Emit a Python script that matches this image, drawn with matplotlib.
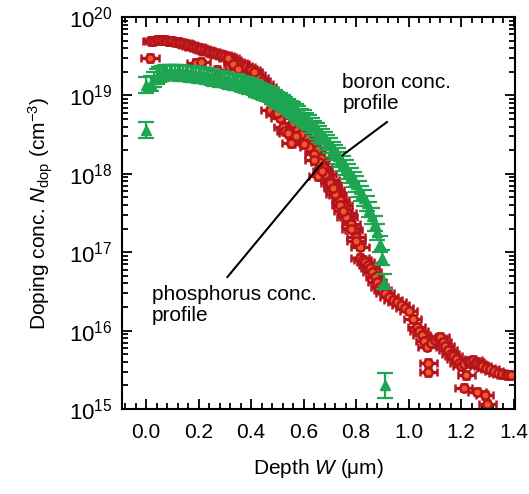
import numpy as np
import matplotlib.pyplot as plt
from matplotlib.ticker import FixedLocator, LogLocator, NullFormatter, FuncFormatter

plt.rcParams['font.family'] = ['Liberation Sans', 'DejaVu Sans']
plt.rcParams['mathtext.fontset'] = 'custom'
plt.rcParams['mathtext.rm'] = 'Liberation Sans'
plt.rcParams['mathtext.it'] = 'Liberation Sans:italic'

# phosphorus profile (depth in um, concentration in cm^-3)
p_depth = [0.02, 0.03, 0.04, 0.05, 0.06, 0.07, 0.08, 0.09, 0.10, 0.11, 0.12, 0.13,
           0.14, 0.15, 0.16, 0.17, 0.18, 0.19, 0.20, 0.21, 0.22, 0.23, 0.24, 0.25,
           0.26, 0.27, 0.28, 0.29, 0.30, 0.31, 0.32, 0.33, 0.34, 0.35, 0.36, 0.37,
           0.38, 0.39, 0.40, 0.41, 0.42, 0.43, 0.44, 0.45, 0.46, 0.47, 0.48,
           0.015, 0.19, 0.21, 0.27, 0.31, 0.33, 0.35, 0.41,
           0.47, 0.49, 0.51, 0.52, 0.53, 0.54, 0.55, 0.56, 0.575, 0.59, 0.61, 0.62,
           0.63, 0.65, 0.655, 0.665, 0.675, 0.69, 0.70, 0.71, 0.72, 0.73, 0.74, 0.75,
           0.765, 0.77, 0.78, 0.79, 0.80, 0.815,
           0.53, 0.56, 0.59, 0.62, 0.64, 0.66, 0.68, 0.70, 0.72, 0.74, 0.76, 0.78,
           0.80, 0.50, 0.57, 0.60, 0.64, 0.67, 0.71, 0.75,
           0.815, 0.825, 0.835, 0.845, 0.853, 0.86, 0.87, 0.88, 0.89, 0.90, 0.91,
           0.925, 0.94, 0.955, 0.97, 0.985, 1.00, 1.015, 1.03, 1.04, 1.05, 1.06,
           1.07, 1.085, 1.10, 1.11, 1.12, 1.13, 1.14, 1.15, 1.16, 1.17, 1.18, 1.19,
           1.20, 1.21, 1.225, 1.235, 1.245, 1.255, 1.26, 1.27, 1.28, 1.295, 1.31,
           1.325, 1.34, 1.355, 1.37, 1.38, 1.39,
           1.075, 1.075, 1.21, 1.22, 1.26, 1.29, 1.30]
p_conc = [4.9e19, 5.0e19, 5.1e19, 5.1e19, 5.1e19, 5.05e19, 5.0e19, 4.95e19, 4.9e19,
          4.85e19, 4.8e19, 4.7e19, 4.6e19, 4.5e19, 4.4e19, 4.3e19, 4.2e19, 4.1e19,
          4.0e19, 3.9e19, 3.8e19, 3.7e19, 3.6e19, 3.55e19, 3.5e19, 3.4e19, 3.3e19,
          3.25e19, 3.2e19, 3.1e19, 3.0e19, 2.85e19, 2.7e19, 2.6e19, 2.5e19, 2.4e19,
          2.3e19, 2.2e19, 2.1e19, 1.95e19, 1.8e19, 1.68e19, 1.55e19, 1.42e19, 1.3e19,
          1.17e19, 1.05e19,
          3.0e19, 2.6e19, 2.7e19, 2.1e19, 3.0e19, 2.5e19, 2.2e19, 2.0e19,
          6.5e18, 5.8e18, 5.2e18, 4.0e18, 3.5e18, 3.3e18, 2.45e18, 4.5e18, 3.8e18, 3.2e18,
          2.95e18, 2.5e18, 2.3e18, 2.0e18, 9.3e17, 1.6e18, 1.23e18, 1.0e18, 8.3e17, 7.2e17,
          6.2e17, 5.4e17, 4.7e17, 4.0e17, 3.2e17, 2.8e17, 2.3e17, 1.9e17, 1.55e17, 1.17e17,
          6.3e18, 4.5e18, 3.2e18, 2.2e18, 1.8e18, 1.4e18, 1.0e18, 7.6e17, 5.6e17, 4.0e17,
          2.8e17, 2.0e17, 1.4e17, 6.0e18, 3.0e18, 2.4e18, 1.5e18, 1.1e18, 6.6e17, 3.4e17,
          8.5e16, 8.0e16, 7.4e16, 6.8e16, 6.3e16, 5.6e16, 4.8e16, 4.2e16, 3.6e16, 3.3e16,
          3.0e16, 2.7e16, 2.45e16, 2.3e16, 2.1e16, 1.95e16, 1.8e16, 1.4e16, 1.12e16,
          1.0e16, 8.9e15, 7.4e15, 6.2e15, 7.0e15, 7.6e15, 8.0e15, 8.3e15, 7.2e15, 6.3e15,
          5.7e15, 5.1e15, 4.8e15, 4.4e15, 3.9e15, 3.5e15, 3.8e15, 4.0e15, 4.1e15, 4.2e15,
          4.0e15, 3.8e15, 3.65e15, 3.5e15, 3.35e15, 3.2e15, 3.05e15, 2.9e15, 2.8e15,
          2.75e15, 2.7e15, 2.7e15,
          3.9e15, 2.95e15, 1.86e15, 2.7e15, 1.66e15, 1.5e15, 1.17e15]

# boron profile
b_depth = [0.0, 0.0,
           0.02, 0.03, 0.04, 0.05, 0.06, 0.07, 0.08, 0.09, 0.10, 0.11, 0.12, 0.13,
           0.14, 0.15, 0.16, 0.17, 0.18, 0.19, 0.20, 0.21, 0.22, 0.23, 0.24, 0.25,
           0.26, 0.27, 0.28, 0.29, 0.30, 0.31, 0.32, 0.33, 0.34, 0.35, 0.36, 0.37,
           0.38, 0.39, 0.40, 0.41, 0.42, 0.43, 0.44, 0.45, 0.46, 0.47, 0.48, 0.49,
           0.50, 0.51, 0.52, 0.53, 0.54, 0.55, 0.56, 0.57, 0.58, 0.59, 0.60, 0.61,
           0.62, 0.63, 0.64, 0.65, 0.66, 0.67, 0.68, 0.69, 0.70, 0.71, 0.72, 0.73,
           0.74, 0.75, 0.76, 0.77, 0.78, 0.79, 0.80, 0.81, 0.82, 0.83, 0.84, 0.85,
           0.86, 0.87, 0.88, 0.89,
           0.90, 0.905, 0.91]
b_conc = [1.35e19, 3.6e18,
          1.41e19, 1.6e19, 1.74e19, 1.84e19, 1.91e19, 1.94e19, 1.95e19, 1.96e19, 1.95e19,
          1.95e19, 1.95e19, 1.93e19, 1.91e19, 1.91e19, 1.90e19, 1.88e19, 1.86e19, 1.84e19,
          1.82e19, 1.80e19, 1.78e19, 1.76e19, 1.74e19, 1.70e19, 1.66e19, 1.64e19, 1.62e19,
          1.60e19, 1.58e19, 1.55e19, 1.51e19, 1.50e19, 1.48e19, 1.45e19, 1.41e19, 1.38e19,
          1.35e19, 1.32e19, 1.29e19, 1.25e19, 1.20e19, 1.16e19, 1.12e19, 1.09e19, 1.05e19,
          1.02e19, 9.8e18, 9.3e18, 8.9e18, 8.5e18, 8.1e18, 7.6e18, 7.2e18, 6.8e18, 6.5e18,
          6.1e18, 5.8e18, 5.4e18, 5.1e18, 4.8e18, 4.5e18, 4.1e18, 3.8e18, 3.5e18, 3.2e18,
          3.0e18, 2.75e18, 2.5e18, 2.3e18, 2.05e18, 1.86e18, 1.68e18, 1.51e18, 1.35e18,
          1.2e18, 1.07e18, 9.5e17, 8.4e17, 7.4e17, 6.4e17, 5.6e17, 4.9e17, 4.2e17, 3.5e17,
          2.9e17, 2.3e17, 1.8e17, 1.26e17,
          8.5e16, 4.2e16, 2.0e15]

red = '#b5141c'
orange = '#f25a2a'
green = '#1ea551'

fig = plt.figure(figsize=(5.29, 4.94), dpi=100)
ax = fig.add_axes([0.2306, 0.172, 0.7429, 0.7935])

pc = np.array(p_conc)
ax.errorbar(p_depth, pc, xerr=0.033, yerr=[pc * 0.1, pc * 0.12], fmt='o',
            ms=6, mfc=orange, mec=red, mew=1.8, ecolor=red, elinewidth=2.4,
            capsize=3, capthick=2.4, zorder=2)

bc = np.array(b_conc)
b_err_lo = bc * 0.2
b_err_hi = bc * 0.26
b_err_lo[-1] = bc[-1] * 0.3
b_err_hi[-1] = bc[-1] * 0.45
ax.errorbar(b_depth, bc, yerr=[b_err_lo, b_err_hi], fmt='^', ms=6.5,
            mfc=green, mec=green, ecolor=green, elinewidth=1.6,
            capsize=6, capthick=1.6, zorder=3)

ax.set_yscale('log')
ax.set_xlim(-0.092, 1.405)
ax.set_ylim(1e15, 1e20)

ax.xaxis.set_major_locator(FixedLocator([0.0, 0.2, 0.4, 0.6, 0.8, 1.0, 1.2, 1.4]))
ax.xaxis.set_minor_locator(FixedLocator(np.arange(-0.08, 1.41, 0.04)))
ax.xaxis.set_major_formatter(FuncFormatter(lambda v, p: f'{v:.1f}'))
ax.yaxis.set_major_locator(LogLocator(base=10, numticks=10))
ax.yaxis.set_minor_locator(LogLocator(base=10, subs=np.arange(2, 10), numticks=20))
ax.yaxis.set_minor_formatter(NullFormatter())
ax.yaxis.set_major_formatter(FuncFormatter(lambda v, p: r'$\mathregular{10^{%d}}$' % round(np.log10(v))))

ax.tick_params(which='both', direction='in', top=True, right=True, width=1.3, labelsize=15)
ax.tick_params(axis='x', which='major', length=7, pad=10)
ax.tick_params(axis='y', which='major', length=7, pad=7, labelsize=16)
ax.tick_params(which='minor', length=4)
for s in ax.spines.values():
    s.set_linewidth(1.5)

ax.set_xlabel(r'Depth $W$ ($\mathregular{\mu}$m)', fontsize=15, labelpad=11)
ax.set_ylabel(r'Doping conc. $N_{\mathregular{dop}}$ (cm$^{\mathregular{-3}}$)', fontsize=15, labelpad=10)

ax.text(0.747, 1.93e19, 'boron conc.\nprofile', fontsize=15, va='top', ha='left', linespacing=1.1)
ax.annotate('', xy=(0.739, 1.64e18), xytext=(0.918, 4.6e18),
            arrowprops=dict(arrowstyle='-', color='black', lw=1.5, shrinkA=0, shrinkB=0))
ax.text(0.023, 3.8e16, 'phosphorus conc.\nprofile', fontsize=15, va='top', ha='left', linespacing=1.1)
ax.annotate('', xy=(0.67, 1.38e18), xytext=(0.309, 4.8e16),
            arrowprops=dict(arrowstyle='-', color='black', lw=1.5, shrinkA=0, shrinkB=0))

fig.savefig('out.png', dpi=100)
